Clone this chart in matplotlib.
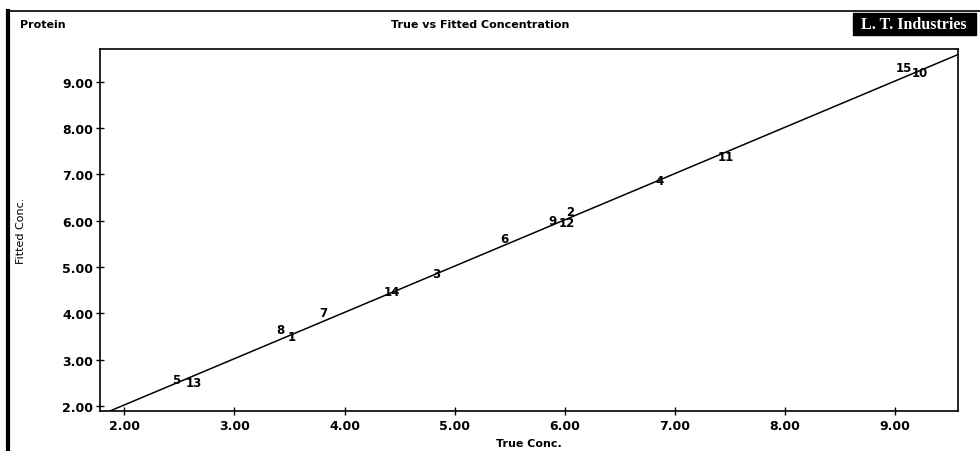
import matplotlib
matplotlib.use("Agg")
import matplotlib.pyplot as plt
from matplotlib.patches import Rectangle
from matplotlib.lines import Line2D

# Data
sample_ids = ["5", "13", "8", "1", "7", "14", "3", "6", "9", "12", "2", "4", "11", "15", "10"]
true_conc = [2.47, 2.63, 3.42, 3.52, 3.81, 4.43, 4.83, 5.45, 5.89, 6.02, 6.05, 6.86, 7.46, 9.08, 9.22]
fitted_conc = [2.58, 2.50, 3.64, 3.51, 4.01, 4.48, 4.87, 5.61, 6.00, 5.96, 6.21, 6.86, 7.38, 9.32, 9.21]
fit_slope = 1.0
fit_intercept = 0.02
x_ticks = [2, 3, 4, 5, 6, 7, 8, 9]
y_ticks = [2, 3, 4, 5, 6, 7, 8, 9]

W, H = 980, 452
fig = plt.figure(figsize=(W / 100, H / 100), dpi=100)
fig.patch.set_facecolor("white")

font = "DejaVu Sans"
ax = fig.add_axes([100 / W, 1 - 412 / H, (958 - 100) / W, (412 - 50) / H])
xmin, xmax = 1.78, 9.57
ymin, ymax = 1.89, 9.71
ax.set_xlim(xmin, xmax)
ax.set_ylim(ymin, ymax)

# fitted line
ax.plot([xmin, xmax], [fit_slope * xmin + fit_intercept, fit_slope * xmax + fit_intercept],
        color="black", lw=1.1, clip_on=True)

for sid, tx, fy in zip(sample_ids, true_conc, fitted_conc):
    ax.text(tx, fy, sid, ha="center", va="center", fontsize=8.5, fontweight="bold",
            family=font, color="black")

ax.set_xticks(x_ticks)
ax.set_yticks(y_ticks)
ax.set_xticklabels([f"{v:.2f}" for v in x_ticks], fontsize=9, fontweight="bold", family=font)
ax.set_yticklabels([f"{v:.2f}" for v in y_ticks], fontsize=9, fontweight="bold", family=font)
ax.tick_params(direction="inout", length=6, width=1, pad=2)
ax.tick_params(axis="x", pad=3)
for s in ax.spines.values():
    s.set_linewidth(1.2)

ax.set_xlabel("True Conc.", fontsize=8, fontweight="bold", family=font, labelpad=4)
ax.set_ylabel("Fitted Conc.", fontsize=8, family=font)
ax.yaxis.set_label_coords(-74 / 858, 0.5)

# header texts
fig.text(20 / W, 1 - 25 / H, "Protein", fontsize=8, fontweight="bold", family=font,
         ha="left", va="center")
fig.text(480 / W, 1 - 25 / H, "True vs Fitted Concentration", fontsize=8, fontweight="bold",
         family=font, ha="center", va="center")
fig.patches.append(Rectangle((853 / W, 1 - 36 / H), (976 - 853) / W, 22 / H,
                             transform=fig.transFigure, facecolor="black", edgecolor="black"))
fig.text(914 / W, 1 - 25 / H, "L. T. Industries", fontsize=11.5, fontweight="bold",
         family="Liberation Serif", color="white", ha="center", va="center")

# page border lines
fig.lines.append(Line2D([8 / W, 8 / W], [0, 1 - 12 / H], transform=fig.transFigure,
                        color="black", lw=3))
fig.lines.append(Line2D([8 / W, 980 / W], [1 - 12 / H, 1 - 12 / H], transform=fig.transFigure,
                        color="black", lw=1.2))

fig.savefig("out.png", dpi=100)
